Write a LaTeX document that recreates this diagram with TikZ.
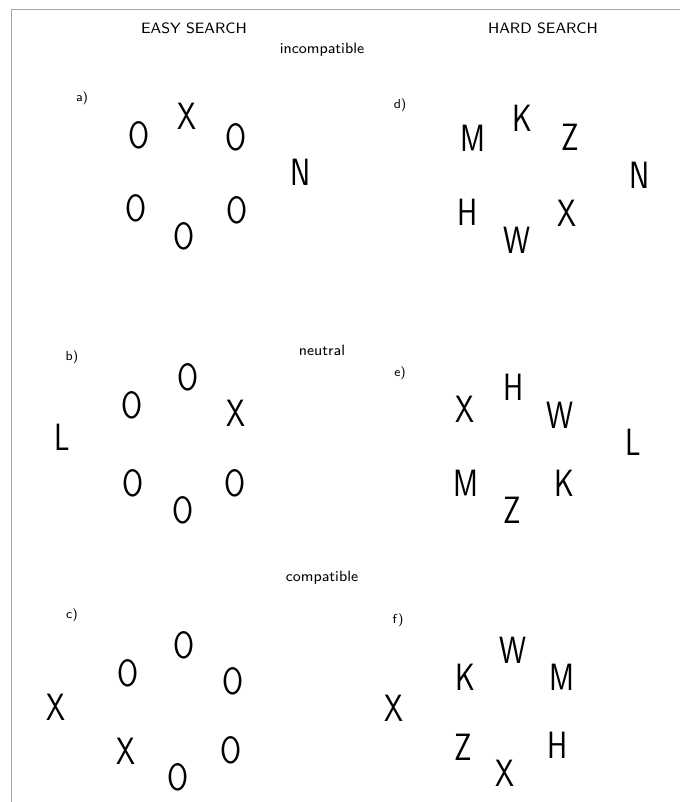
\documentclass[tikz,border=0pt]{standalone}
\begin{document}
\begin{tikzpicture}[x=0.5pt, y=-0.5pt,
    letter/.style={font=\sffamily\fontsize{19}{19}\selectfont, inner sep=0pt, xscale=0.8},
    part/.style={font=\sffamily\fontsize{6.5}{7}\selectfont, inner sep=0pt},
    cond/.style={font=\sffamily\fontsize{7.5}{8}\selectfont, inner sep=0pt},
    head/.style={font=\sffamily\fontsize{7.5}{8}\selectfont, inner sep=0pt}]
    \useasboundingbox (0,0) rectangle (680,802);
    % frame
    \draw[gray!70, line width=0.5pt] (11,802) -- (11,10) -- (680,10);
    % headings
    \node[head] (easy) at (194,28) {EASY SEARCH};
    \node[head] (hard) at (543,28) {HARD SEARCH};
    \node[cond] (incomp) at (322,50) {incompatible};
    \node[cond] (neutral) at (322,350) {neutral};
    \node[cond] (comp) at (322,578) {compatible};
    % a)
    \node[part] (la) at (82,98) {a)};
    \foreach \n/\t/\x/\y in {1/X/187/116, 2/O/139/135, 3/O/236/137, 4/N/301/172,
        5/O/136/208, 6/O/237/210, 7/O/184/236}
        \node[letter] (a\n) at (\x,\y) {\t};
    % b)
    \node[part] (lb) at (72,357) {b)};
    \foreach \n/\t/\x/\y in {1/O/188/377, 2/O/132/405, 3/X/236/413, 4/L/62/437,
        5/O/133/483, 6/O/235/483, 7/O/183/510}
        \node[letter] (b\n) at (\x,\y) {\t};
    % c)
    \node[part] (lc) at (72,615) {c)};
    \foreach \n/\t/\x/\y in {1/O/184/645, 2/O/128/673, 3/O/233/681, 4/X/56/707,
        5/X/126/751, 6/O/231/750, 7/O/178/777}
        \node[letter] (c\n) at (\x,\y) {\t};
    % d)
    \node[part] (ld) at (400,105) {d)};
    \foreach \n/\t/\x/\y in {1/K/522/118, 2/M/473/138, 3/Z/570/137, 4/N/640/175,
        5/H/468/212, 6/X/567/213, 7/W/517/240}
        \node[letter] (d\n) at (\x,\y) {\t};
    % e)
    \node[part] (le) at (400,373) {e)};
    \foreach \n/\t/\x/\y in {1/H/514/387, 2/X/465/409, 3/W/560/415, 4/L/633/442,
        5/M/466/483, 6/K/564/483, 7/Z/512/510}
        \node[letter] (e\n) at (\x,\y) {\t};
    % f)
    \node[part] (lf) at (398,620) {f)};
    \foreach \n/\t/\x/\y in {1/W/513/650, 2/K/465/677, 3/M/562/677, 4/X/394/708,
        5/Z/463/747, 6/H/558/745, 7/X/505/773}
        \node[letter] (f\n) at (\x,\y) {\t};
\end{tikzpicture}
\end{document}
